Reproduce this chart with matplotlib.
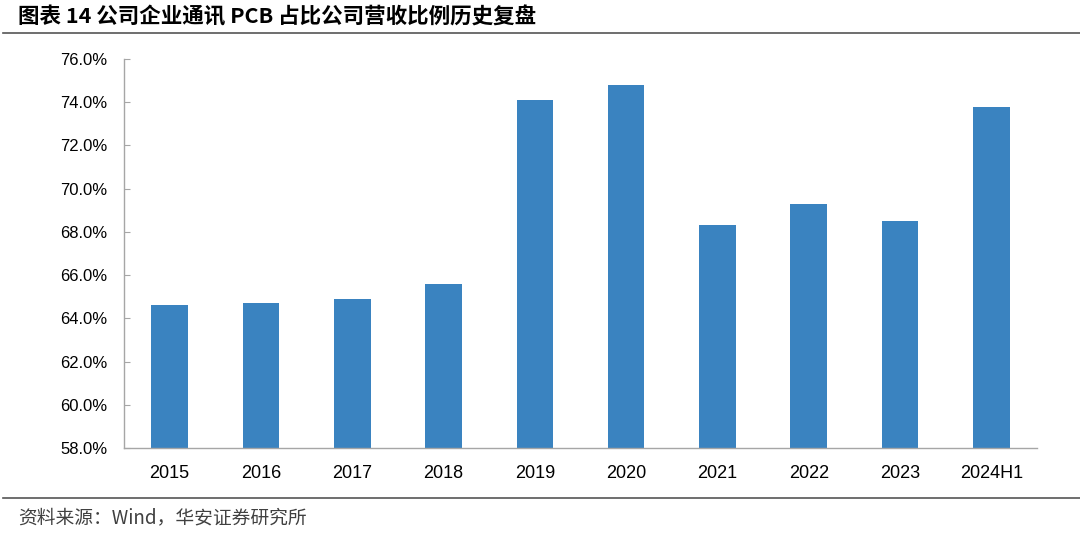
import matplotlib
matplotlib.use("Agg")
import matplotlib.pyplot as plt
from matplotlib.ticker import FuncFormatter
from matplotlib.lines import Line2D

plt.rcParams['font.family'] = ['Liberation Sans', 'Noto Sans CJK SC', 'DejaVu Sans']

categories = ['2015', '2016', '2017', '2018', '2019', '2020', '2021', '2022', '2023', '2024H1']
values = [64.6, 64.7, 64.9, 65.6, 74.1, 74.8, 68.3, 69.3, 68.5, 73.8]
yticks = [58, 60, 62, 64, 66, 68, 70, 72, 74, 76]

W, H = 1080, 537
fig = plt.figure(figsize=(W / 100, H / 100), dpi=100)
ax = fig.add_axes([124 / W, 1 - 448 / H, (1037 - 124) / W, (448 - 59) / H])

x = list(range(len(categories)))
ax.bar(x, values, width=0.4, color='#3A83C0')
ax.set_xlim(-0.5, len(categories) - 0.5)
ax.set_ylim(58, 76)
ax.set_yticks(yticks)
ax.yaxis.set_major_formatter(FuncFormatter(lambda v, p: f'{v:.1f}%'))
ax.set_xticks(x)
ax.set_xticklabels(categories)
for s in ['top', 'right']:
    ax.spines[s].set_visible(False)
for s in ['left', 'bottom']:
    ax.spines[s].set_color('#A6A6A6')
    ax.spines[s].set_linewidth(1.0)
ax.tick_params(axis='y', direction='in', length=4, color='#A6A6A6', labelsize=12, pad=12, labelcolor='#000000')
ax.tick_params(axis='x', length=0, labelsize=13, pad=12, labelcolor='#000000')

fig.text(18 / W, 1 - 17 / H, '图表 14 公司企业通讯 PCB 占比公司营收比例历史复盘', fontsize=15.5,
         fontweight='bold', va='center', ha='left',
         family=['Noto Sans CJK SC', 'DejaVu Sans'])
fig.add_artist(Line2D([3 / W, 1.0], [1 - 33 / H, 1 - 33 / H], color='#555555', lw=1.2,
                      transform=fig.transFigure))
fig.add_artist(Line2D([3 / W, 1.0], [1 - 498 / H, 1 - 498 / H], color='#555555', lw=1.2,
                      transform=fig.transFigure))
fig.text(18 / W, 1 - 518 / H, '资料来源：Wind，华安证券研究所', fontsize=13.5, color='#404040',
         va='center', ha='left', family=['Noto Sans CJK SC', 'DejaVu Sans'])

fig.savefig('out.png', dpi=100)
